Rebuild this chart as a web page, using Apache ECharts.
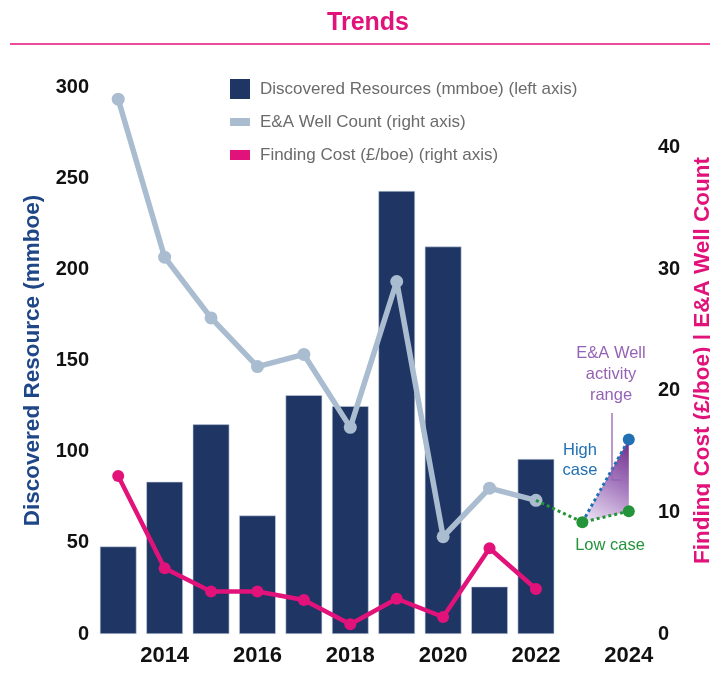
<!DOCTYPE html>
<html>
<head>
<meta charset="utf-8">
<script src="https://cdn.jsdelivr.net/npm/echarts@6/dist/echarts.min.js"></script>
<style>html,body{margin:0;padding:0;background:#fff;}#c{width:710px;height:683px;}</style>
</head>
<body>
<div id="c"></div>
<script>
// ---- data ----
const years = ['2013','2014','2015','2016','2017','2018','2019','2020','2021','2022','2023','2024'];
const discovered = [48, 83.5, 115, 65, 131, 125, 243, 212.5, 26, 96, null, null];
const wellCount = [44, 31, 26, 22, 23, 17, 29, 8, 12, 11, null, null];
const findingCost = [13, 5.4, 3.5, 3.5, 2.8, 0.8, 2.9, 1.4, 7.05, 3.7, null, null];
const projYears = ['2023', '2024'];
const lowCase = [9.2, 10.1];
const highCase = [9.2, 16.0];
const leftTicks = [0, 50, 100, 150, 200, 250, 300];
const rightTicks = [0, 10, 20, 30, 40];

const FONT = '"Liberation Sans", Arial, Helvetica, sans-serif';
const MAGENTA = '#e2127b';
const NAVY = '#1f3563';
const GREY = '#a9bcd0';
const GREEN = '#23943a';
const BLUE = '#2270b4';
const PURPLE = '#9563b5';

const lastHist = years.indexOf('2022');
const lowData = [[years[lastHist], wellCount[lastHist]]].concat(projYears.map((y, i) => [y, lowCase[i]]));
const highData = projYears.map((y, i) => [y, highCase[i]]);

const chart = echarts.init(document.getElementById('c'), null, {renderer: 'canvas'});
chart.setOption({
  animation: false,
  backgroundColor: '#fff',
  textStyle: {fontFamily: FONT},
  title: {
    text: 'Trends', left: 363, top: 6, textAlign: 'center',
    textStyle: {color: MAGENTA, fontSize: 25, fontWeight: 'bold', fontFamily: FONT}
  },
  graphic: [
    {type: 'line', shape: {x1: 10, y1: 44, x2: 710, y2: 44}, style: {stroke: MAGENTA, lineWidth: 1.5}},
    {type: 'text', x: 611, y: 343, style: {text: 'E&A Well\nactivity\nrange', textAlign: 'center', fill: PURPLE, font: '16.5px ' + FONT, lineHeight: 21}},
    {type: 'polyline', z: 100, shape: {points: [[612, 413], [612, 480], [622, 480]]}, style: {stroke: PURPLE, lineWidth: 1.3, fill: null}},
    {type: 'text', x: 580, y: 440, style: {text: 'High\ncase', textAlign: 'center', fill: BLUE, font: '16.5px ' + FONT, lineHeight: 20}},
    {type: 'text', x: 610, y: 537, style: {text: 'Low case', textAlign: 'center', fill: GREEN, font: '16.5px ' + FONT}}
  ],
  legend: {
    orient: 'vertical', left: 225, top: 74, itemWidth: 25, itemHeight: 20, itemGap: 13,
    textStyle: {color: '#6b6b6b', fontSize: 17, fontFamily: FONT},
    itemStyle: {borderWidth: 0},
    data: [
      {name: 'Discovered Resources (mmboe) (left axis)', icon: 'path://M0,0M25,20M0,0h20v20h-20z'},
      {name: 'E&A Well Count (right axis)', icon: 'path://M0,0M25,20M0,6h20v8h-20z'},
      {name: 'Finding Cost (£/boe) (right axis)', icon: 'path://M0,0M25,20M0,5h20v10h-20z'}
    ]
  },
  grid: {left: 95, right: 58, top: 87, bottom: 49, containLabel: false, outerBoundsMode: 'none'},
  xAxis: {
    type: 'category', data: years,
    axisLine: {show: false}, axisTick: {show: false},
    axisLabel: {
      interval: (i, v) => (+v) % 2 === 0,
      color: '#111', fontWeight: 'bold', fontSize: 22, fontFamily: FONT, margin: 11
    }
  },
  yAxis: [
    {
      type: 'value', min: 0, max: 300, interval: 50,
      name: 'Discovered Resource (mmboe)', nameLocation: 'middle', nameGap: 50,
      nameTextStyle: {color: '#1f4788', fontWeight: 'bold', fontSize: 22.5, fontFamily: FONT},
      splitLine: {show: false}, axisLine: {show: false}, axisTick: {show: false},
      axisLabel: {color: '#111', fontWeight: 'bold', fontSize: 20, fontFamily: FONT, margin: 6,
        formatter: v => leftTicks.includes(v) ? String(v) : ''}
    },
    {
      type: 'value', min: 0, max: 45, interval: 10, position: 'right',
      name: 'Finding Cost (£/boe) | E&A Well Count', nameLocation: 'middle', nameGap: 28,
      nameTextStyle: {color: MAGENTA, fontWeight: 'bold', fontSize: 22.5, fontFamily: FONT},
      splitLine: {show: false}, axisLine: {show: false}, axisTick: {show: false},
      axisLabel: {color: '#111', fontWeight: 'bold', fontSize: 20, fontFamily: FONT, margin: 6,
        formatter: v => rightTicks.includes(v) ? String(v) : ''}
    }
  ],
  series: [
    {
      name: 'Discovered Resources (mmboe) (left axis)', type: 'bar', yAxisIndex: 0,
      data: discovered, barWidth: '79%',
      itemStyle: {color: NAVY, borderColor: '#c9d3e2', borderWidth: 0.6}
    },
    {
      name: 'E&A Well Count (right axis)', type: 'line', yAxisIndex: 1, data: wellCount,
      symbol: 'circle', symbolSize: 13, connectNulls: false,
      lineStyle: {color: GREY, width: 5.5}, itemStyle: {color: GREY}, z: 3
    },
    {
      name: 'Finding Cost (£/boe) (right axis)', type: 'line', yAxisIndex: 1, data: findingCost,
      symbol: 'circle', symbolSize: 12,
      lineStyle: {color: MAGENTA, width: 4.5}, itemStyle: {color: MAGENTA}, z: 4
    },
    {
      name: 'range', type: 'custom', yAxisIndex: 1, z: 2,
      data: [[projYears[1], highCase[1]]],
      renderItem: (params, api) => {
        const i0 = years.indexOf(projYears[0]);
        const i1 = years.indexOf(projYears[1]);
        const p0 = api.coord([i0, lowCase[0]]);
        const p1 = api.coord([i1, highCase[1]]);
        const p2 = api.coord([i1, lowCase[1]]);
        return {
          type: 'polygon',
          shape: {points: [p0, p1, p2]},
          style: {fill: new echarts.graphic.LinearGradient(1, 0, 0, 1, [
            {offset: 0, color: '#6c2a88'}, {offset: 0.5, color: '#a97fc2'}, {offset: 1, color: '#f1e9f6'}])}
        };
      }
    },
    {
      name: 'High case', type: 'line', yAxisIndex: 1,
      data: highData.map((d, i) => i === 0 ? {value: d, symbol: 'none'} : d),
      symbol: 'circle', symbolSize: 12,
      lineStyle: {color: BLUE, width: 3, type: 'dotted'}, itemStyle: {color: BLUE}, z: 5
    },
    {
      name: 'Low case', type: 'line', yAxisIndex: 1,
      data: lowData.map((d, i) => i === 0 ? {value: d, symbol: 'none'} : d),
      symbol: 'circle', symbolSize: 12,
      lineStyle: {color: GREEN, width: 3, type: 'dotted'}, itemStyle: {color: GREEN}, z: 6
    }
  ]
});
</script>
</body>
</html>
